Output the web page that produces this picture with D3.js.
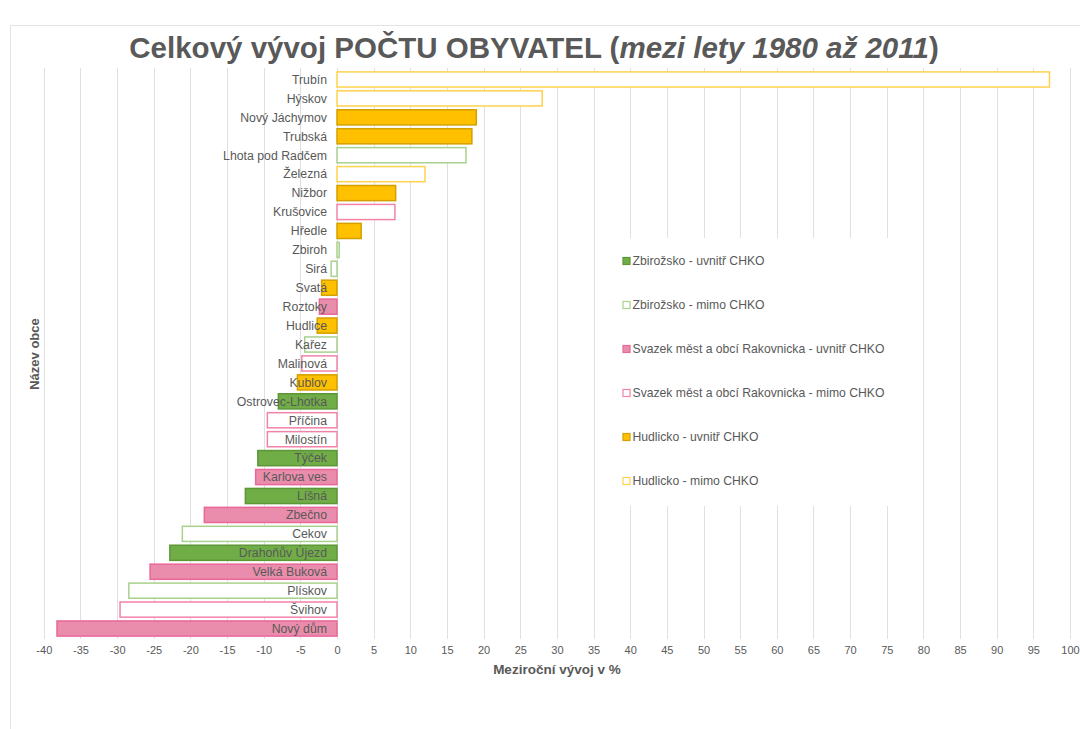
<!DOCTYPE html>
<html>
<head>
<meta charset="utf-8">
<script src="https://cdn.jsdelivr.net/npm/d3@7"></script>
<style>
  html, body { margin: 0; padding: 0; background: #fff; }
  svg { display: block; font-family: "Liberation Sans", Arial, sans-serif; }
</style>
</head>
<body>
<svg id="chart" width="1080" height="729"></svg>
<script>
// ---------- data ----------
const categories = ["Trubín","Hýskov","Nový Jáchymov","Trubská","Lhota pod Radčem","Železná","Nižbor","Krušovice","Hředle","Zbiroh","Sirá","Svatá","Roztoky","Hudlice","Kařez","Malinová","Kublov","Ostrovec-Lhotka","Příčina","Milostín","Týček","Karlova ves","Líšná","Zbečno","Cekov","Drahoňův Újezd","Velká Buková","Plískov","Švihov","Nový dům"];
const values = [97.2, 28.0, 19.0, 18.4, 17.6, 12.0, 8.0, 7.9, 3.3, 0.3, -0.8, -2.1, -2.4, -2.7, -4.4, -4.8, -5.4, -8.0, -9.5, -9.5, -10.8, -11.1, -12.5, -18.1, -21.1, -22.8, -25.5, -28.4, -29.6, -38.2];
// index into seriesNames
const groups = [5, 5, 4, 4, 1, 5, 4, 3, 4, 1, 1, 4, 2, 4, 1, 3, 4, 0, 3, 3, 0, 2, 0, 2, 1, 0, 2, 1, 3, 2];
const seriesNames = [
  "Zbirožsko - uvnitř CHKO",
  "Zbirožsko - mimo CHKO",
  "Svazek měst a obcí Rakovnicka - uvnitř CHKO",
  "Svazek měst a obcí Rakovnicka - mimo CHKO",
  "Hudlicko - uvnitř CHKO",
  "Hudlicko - mimo CHKO"
];
const xTicks = [-40,-35,-30,-25,-20,-15,-10,-5,0,5,10,15,20,25,30,35,40,45,50,55,60,65,70,75,80,85,90,95,100];
const titleMain = "Celkový vývoj POČTU OBYVATEL (";
const titleItalic = "mezi lety 1980 až 2011";
const titleEnd = ")";
const xTitle = "Meziroční vývoj v %";
const yTitle = "Název obce";

// ---------- styles ----------
const fills   = ["#70AD47", "#ffffff", "#EA8DAC", "#ffffff", "#FFC000", "#ffffff"];
const strokes = ["#5C9636", "#A9D18E", "#E8689A", "#F283A8", "#D3A000", "#FFD24D"];
const textColor = "#595959";

const svg = d3.select("#chart");

// card
svg.append("rect").attr("x", 10.5).attr("y", 25.5).attr("width", 1100).attr("height", 720)
  .attr("fill", "#fff").attr("stroke", "#e3e3e3").attr("stroke-width", 1);

const plotL = 43.8, plotR = 1070, plotT = 70, plotB = 638;
const x = d3.scaleLinear().domain([-40, 100]).range([plotL, plotR]);
const y = d3.scaleBand().domain(categories).range([plotT, plotB]).paddingInner(0.2).paddingOuter(0.1);

// gridlines
svg.append("g").selectAll("line").data(xTicks).join("line")
  .attr("x1", d => Math.round(x(d)) + 0.5).attr("x2", d => Math.round(x(d)) + 0.5)
  .attr("y1", 68).attr("y2", 639)
  .attr("stroke", "#e0e0e0").attr("stroke-width", 1);

// bars
svg.append("g").selectAll("rect").data(values).join("rect")
  .attr("x", d => x(Math.min(0, d)))
  .attr("y", (d, i) => y(categories[i]))
  .attr("width", d => Math.abs(x(d) - x(0)))
  .attr("height", y.bandwidth())
  .attr("fill", (d, i) => fills[groups[i]])
  .attr("stroke", (d, i) => strokes[groups[i]])
  .attr("stroke-width", 1.5);

// category labels (inside plot, right-aligned left of zero)
svg.append("g").selectAll("text").data(categories).join("text")
  .attr("x", x(0) - 10)
  .attr("y", d => y(d) + y.bandwidth() / 2)
  .attr("dy", "0.35em")
  .attr("text-anchor", "end")
  .attr("font-size", 12.3)
  .attr("fill", textColor)
  .text(d => d);

// x axis tick labels
const xAxis = d3.axisBottom(x).tickValues(xTicks).tickSize(0).tickPadding(0).tickFormat(d => String(d));
const gx = svg.append("g").attr("transform", `translate(0, 646)`).call(xAxis);
gx.select(".domain").remove();
gx.selectAll("text").attr("font-size", 11).attr("fill", textColor)
  .attr("font-family", "Liberation Sans, Arial, sans-serif");

// axis titles
svg.append("text").attr("x", (plotL + plotR) / 2).attr("y", 674)
  .attr("text-anchor", "middle").attr("font-size", 13.5).attr("font-weight", "bold")
  .attr("fill", textColor).text(xTitle);
svg.append("text").attr("transform", `translate(39, ${(plotT + plotB) / 2}) rotate(-90)`)
  .attr("text-anchor", "middle").attr("font-size", 13).attr("font-weight", "bold")
  .attr("fill", textColor).text(yTitle);

// title
const t = svg.append("text").attr("x", 534).attr("y", 57.5)
  .attr("text-anchor", "middle").attr("font-size", 29.5).attr("font-weight", "bold")
  .attr("fill", textColor);
t.append("tspan").text(titleMain);
t.append("tspan").attr("font-style", "italic").text(titleItalic);
t.append("tspan").text(titleEnd);

// legend
const lg = svg.append("g");
lg.append("rect").attr("x", 606).attr("y", 238).attr("width", 300).attr("height", 268).attr("fill", "#fff");
const items = lg.selectAll("g").data(seriesNames).join("g")
  .attr("transform", (d, i) => `translate(623, ${261 + i * 44})`);
items.append("rect").attr("x", 0).attr("y", -3.5).attr("width", 7).attr("height", 7)
  .attr("fill", (d, i) => fills[i]).attr("stroke", (d, i) => strokes[i]).attr("stroke-width", 1.2);
items.append("text").attr("x", 9.5).attr("y", 0).attr("dy", "0.35em")
  .attr("font-size", 12.2).attr("fill", textColor).text(d => d);
</script>
</body>
</html>
